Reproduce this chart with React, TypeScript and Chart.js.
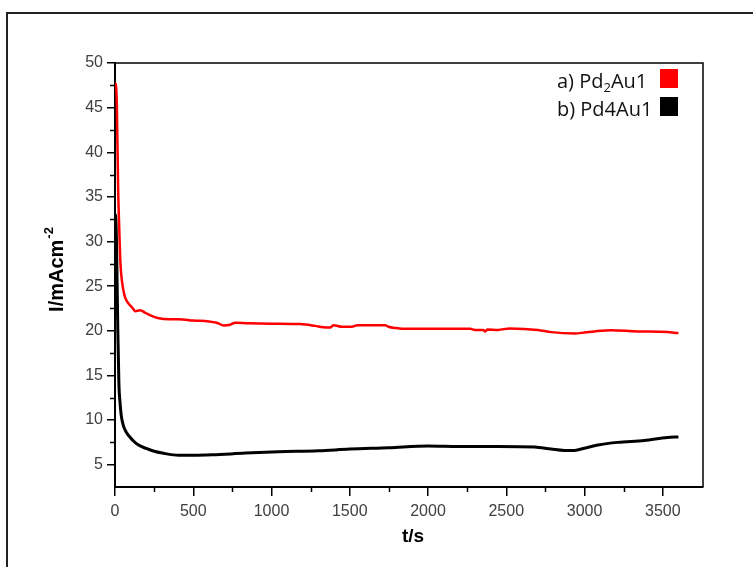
import React, { useEffect, useRef } from "react";
import { Chart, registerables } from "chart.js";

Chart.register(...registerables);

// ---- data ----
const redTime = [0, 5, 12, 20, 28, 35, 45, 60, 80, 110, 130, 160, 195, 230, 280, 350, 408, 500, 600, 650, 695, 730, 769, 850, 1000, 1184, 1278, 1330, 1375, 1396, 1450, 1513, 1550, 1726, 1747, 1800, 1850, 2269, 2300, 2353, 2365, 2380, 2447, 2522, 2702, 2787, 2936, 3000, 3063, 3170, 3340, 3530, 3560, 3600];
const redCurrent = [47.7, 47.7, 45, 36, 31, 27.5, 25.5, 24, 23.2, 22.6, 22.2, 22.3, 22.0, 21.7, 21.4, 21.3, 21.3, 21.15, 21.05, 20.9, 20.6, 20.65, 20.9, 20.85, 20.8, 20.75, 20.55, 20.4, 20.37, 20.63, 20.45, 20.45, 20.63, 20.63, 20.45, 20.3, 20.22, 20.22, 20.1, 20.1, 19.93, 20.15, 20.1, 20.27, 20.1, 19.85, 19.7, 19.8, 19.93, 20.07, 19.93, 19.87, 19.8, 19.75];

const blackTime = [0, 3, 10, 18, 25, 32, 40, 55, 70, 110, 150, 195, 250, 302, 408, 500, 620, 833, 1045, 1300, 1500, 1750, 2000, 2200, 2447, 2681, 2787, 2870, 2936, 3000, 3085, 3212, 3382, 3530, 3600];
const blackCurrent = [30, 33, 29.5, 20, 14, 12, 10.5, 9.3, 8.7, 7.8, 7.2, 6.85, 6.5, 6.3, 6.05, 6.05, 6.1, 6.3, 6.45, 6.55, 6.75, 6.9, 7.1, 7.05, 7.05, 6.98, 6.75, 6.6, 6.6, 6.85, 7.2, 7.5, 7.7, 8.05, 8.1];

const seriesLabels = ["a) Pd_{2}Au1", "b) Pd4Au1"];
const seriesColors = ["#ff0000", "#000000"];

const xMin = 0;
const xMax = 3757;
const xTickValues = [0, 500, 1000, 1500, 2000, 2500, 3000, 3500];
const xMinorTicks = [250, 750, 1250, 1750, 2250, 2750, 3250];
const yMin = 2.5;
const yMax = 50;
const yTickValues = [5, 10, 15, 20, 25, 30, 35, 40, 45, 50];
const yMinorTicks = [7.5, 12.5, 17.5, 22.5, 27.5, 32.5, 37.5, 42.5, 47.5];

const xTitle = "t/s";
const yTitleMain = "I/mAcm";
const yTitleSup = "-2";

const TICK_FONT = "Liberation Sans, Arial, sans-serif";
const LEGEND_FONT = "'Open Sans', sans-serif";

function drawRich(ctx: CanvasRenderingContext2D, text: string, x: number, y: number, size: number) {
  // parses "_{...}" as subscript
  const parts: { t: string; sub: boolean }[] = [];
  const re = /_\{([^}]*)\}/g;
  let last = 0;
  let m: RegExpExecArray | null;
  while ((m = re.exec(text))) {
    if (m.index > last) parts.push({ t: text.slice(last, m.index), sub: false });
    parts.push({ t: m[1], sub: true });
    last = m.index + m[0].length;
  }
  if (last < text.length) parts.push({ t: text.slice(last), sub: false });
  let cx = x;
  for (const p of parts) {
    const s = p.sub ? size * 0.65 : size;
    ctx.font = `${s}px ${LEGEND_FONT}`;
    ctx.fillText(p.t, cx, p.sub ? y + size * 0.22 : y);
    cx += ctx.measureText(p.t).width;
  }
}

const decorPlugin = {
  id: "decor",
  afterDraw(chart: any) {
    const { ctx, chartArea, scales } = chart;
    const { left, right, top, bottom } = chartArea;
    const xs = scales.x;
    const ys = scales.y;
    ctx.save();
    // outer frame
    ctx.strokeStyle = "#222";
    ctx.lineWidth = 2;
    ctx.beginPath();
    ctx.moveTo(7, 580);
    ctx.lineTo(7, 13);
    ctx.lineTo(760, 13);
    ctx.stroke();
    // top and right sides of the plot box
    ctx.strokeStyle = "#000";
    ctx.lineWidth = 1.5;
    ctx.beginPath();
    ctx.moveTo(left, top);
    ctx.lineTo(right, top);
    ctx.lineTo(right, bottom);
    ctx.stroke();
    // minor ticks
    ctx.lineWidth = 1.5;
    ctx.beginPath();
    for (const v of xMinorTicks) {
      const px = Math.round(xs.getPixelForValue(v)) + 0.5;
      ctx.moveTo(px, bottom);
      ctx.lineTo(px, bottom + 5);
    }
    for (const v of yMinorTicks) {
      const py = Math.round(ys.getPixelForValue(v)) + 0.5;
      ctx.moveTo(left, py);
      ctx.lineTo(left - 5, py);
    }
    ctx.stroke();
    // legend
    ctx.textBaseline = "alphabetic";
    ctx.textAlign = "left";
    const legendY = [88, 116];
    seriesLabels.forEach((lab, i) => {
      ctx.fillStyle = "#111";
      drawRich(ctx, lab, 557, legendY[i], 20);
      ctx.fillStyle = seriesColors[i];
      ctx.fillRect(660, legendY[i] - 19, 18, 19);
    });
    // x title
    ctx.fillStyle = "#000";
    ctx.font = `bold 19px ${TICK_FONT}`;
    ctx.textAlign = "center";
    ctx.fillText(xTitle, 413, 542);
    // y title with superscript
    ctx.translate(63, 270);
    ctx.rotate(-Math.PI / 2);
    ctx.textAlign = "left";
    ctx.font = `bold 20px ${TICK_FONT}`;
    const w1 = ctx.measureText(yTitleMain).width;
    ctx.font = `bold 13px ${TICK_FONT}`;
    const w2 = ctx.measureText(yTitleSup).width;
    const start = -(w1 + w2) / 2;
    ctx.font = `bold 20px ${TICK_FONT}`;
    ctx.fillText(yTitleMain, start, 0);
    ctx.font = `bold 13px ${TICK_FONT}`;
    ctx.fillText(yTitleSup, start + w1 + 1, -10);
    ctx.restore();
  },
};

export default function App() {
  const ref = useRef<HTMLCanvasElement | null>(null);
  useEffect(() => {
    if (!ref.current) return;
    const chart = new Chart(ref.current, {
      type: "line",
      data: {
        datasets: [
          {
            label: seriesLabels[0],
            data: redTime.map((t, i) => ({ x: t, y: redCurrent[i] })),
            borderColor: seriesColors[0],
            borderWidth: 2.5,
            pointRadius: 0,
            cubicInterpolationMode: "monotone",
          },
          {
            label: seriesLabels[1],
            data: blackTime.map((t, i) => ({ x: t, y: blackCurrent[i] })),
            borderColor: seriesColors[1],
            borderWidth: 3,
            pointRadius: 0,
            cubicInterpolationMode: "monotone",
          },
        ],
      },
      options: {
        animation: false,
        responsive: false,
        layout: { padding: { top: 63, right: 50, left: 0, bottom: 0 } },
        plugins: { legend: { display: false }, tooltip: { enabled: false }, title: { display: false } },
        scales: {
          x: {
            type: "linear",
            min: xMin,
            max: xMax,
            afterBuildTicks: (s: any) => {
              s.ticks = xTickValues.map((v) => ({ value: v }));
            },
            afterFit: (s: any) => {
              s.height = 80;
            },
            border: { display: true, color: "#000", width: 2 },
            grid: { display: true, drawOnChartArea: false, drawTicks: true, tickLength: 9, color: "#000", lineWidth: 1.5 },
            ticks: {
              autoSkip: false,
              maxRotation: 0,
              padding: 6,
              color: "#404040",
              font: { family: TICK_FONT, size: 16 },
              callback: (v: any) => String(v),
            },
          },
          y: {
            type: "linear",
            min: yMin,
            max: yMax,
            afterBuildTicks: (s: any) => {
              s.ticks = yTickValues.map((v) => ({ value: v }));
            },
            afterFit: (s: any) => {
              s.width = 115;
            },
            border: { display: true, color: "#000", width: 2 },
            grid: { display: true, drawOnChartArea: false, drawTicks: true, tickLength: 8, color: "#000", lineWidth: 1.5 },
            ticks: {
              autoSkip: false,
              padding: 4,
              color: "#404040",
              font: { family: TICK_FONT, size: 16 },
              callback: (v: any) => String(v),
            },
          },
        },
      },
      plugins: [decorPlugin],
    });
    return () => chart.destroy();
  }, []);
  return (
    <div style={{ position: "fixed", left: 0, top: 0, width: 753, height: 567, background: "#fff" }}>
      <canvas ref={ref} width={753} height={567} style={{ display: "block", width: 753, height: 567 }} />
    </div>
  );
}
